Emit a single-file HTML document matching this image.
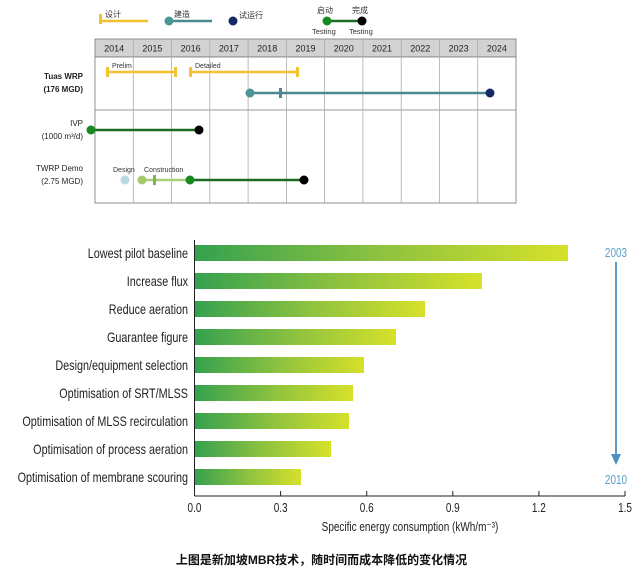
<!DOCTYPE html>
<html><head><meta charset="utf-8"><style>
html,body{margin:0;padding:0;background:#fff;}
svg{display:block;font-family:"Liberation Sans","Noto Sans CJK SC",sans-serif;}
</style></head><body>
<svg width="643" height="581" viewBox="0 0 643 581" xmlns="http://www.w3.org/2000/svg">
<defs>
<linearGradient id="g" x1="0" x2="1" y1="0" y2="0">
<stop offset="0" stop-color="#35a14f"/><stop offset="0.5" stop-color="#8ec23f"/><stop offset="1" stop-color="#d6e12a"/>
</linearGradient>
</defs>
<g font-size="8" fill="#333">
<rect x="99" y="14" width="3" height="10" fill="#f2c231"/>
<line x1="101" y1="21" x2="148" y2="21" stroke="#f2c231" stroke-width="2.5"/>
<text x="105" y="17">设计</text>
<line x1="169" y1="21" x2="212" y2="21" stroke="#4a8a8e" stroke-width="2.5"/>
<circle cx="169" cy="21" r="4.5" fill="#4b9598"/>
<text x="174" y="17">建造</text>
<circle cx="233" cy="21" r="4.5" fill="#142a66"/>
<text x="239" y="18">试运行</text>
<line x1="327" y1="21" x2="362" y2="21" stroke="#1c6a23" stroke-width="2.5"/>
<circle cx="327" cy="21" r="4.5" fill="#178a22"/>
<circle cx="362" cy="21" r="4.5" fill="#000"/>
<text x="317" y="13">启动</text><text x="352" y="13">完成</text>
<text x="312" y="34" font-size="7.5">Testing</text><text x="349" y="34" font-size="7.5">Testing</text>
</g>
<rect x="95" y="39" width="421" height="18" fill="#d2d2d2" stroke="#777" stroke-width="0.8"/>
<rect x="95" y="57" width="421" height="146" fill="#fff" stroke="#777" stroke-width="0.8"/>
<line x1="95" y1="110" x2="516" y2="110" stroke="#777" stroke-width="0.8"/>
<g stroke="#aaa" stroke-width="0.8">
<line x1="133.3" y1="39" x2="133.3" y2="203"/><line x1="171.5" y1="39" x2="171.5" y2="203"/><line x1="209.8" y1="39" x2="209.8" y2="203"/><line x1="248.1" y1="39" x2="248.1" y2="203"/><line x1="286.4" y1="39" x2="286.4" y2="203"/><line x1="324.6" y1="39" x2="324.6" y2="203"/><line x1="362.9" y1="39" x2="362.9" y2="203"/><line x1="401.2" y1="39" x2="401.2" y2="203"/><line x1="439.5" y1="39" x2="439.5" y2="203"/><line x1="477.7" y1="39" x2="477.7" y2="203"/>
</g>
<g font-size="9" fill="#222" text-anchor="middle">
<text x="114.1" y="51.5">2014</text><text x="152.4" y="51.5">2015</text><text x="190.6" y="51.5">2016</text><text x="228.9" y="51.5">2017</text><text x="267.2" y="51.5">2018</text><text x="305.5" y="51.5">2019</text><text x="343.8" y="51.5">2020</text><text x="382" y="51.5">2021</text><text x="420.3" y="51.5">2022</text><text x="458.6" y="51.5">2023</text><text x="496.9" y="51.5">2024</text>
</g>
<g font-size="8" fill="#222" text-anchor="end">
<text x="83" y="79" font-weight="bold">Tuas WRP</text><text x="83" y="92" font-weight="bold">(176 MGD)</text>
<text x="83" y="126">IVP</text><text x="83" y="139">(1000 m³/d)</text>
<text x="83" y="171">TWRP Demo</text><text x="83" y="184">(2.75 MGD)</text>
</g>
<g font-size="7" fill="#333">
<line x1="108" y1="72" x2="176" y2="72" stroke="#f2c231" stroke-width="2.5"/>
<rect x="106" y="67" width="3" height="10" fill="#f2c231"/><rect x="174" y="67" width="3" height="10" fill="#f2c231"/>
<text x="112" y="68">Prelim</text>
<line x1="191" y1="72" x2="298" y2="72" stroke="#f2c231" stroke-width="2.5"/>
<rect x="189" y="67" width="3" height="10" fill="#f2c231"/><rect x="296" y="67" width="3" height="10" fill="#f2c231"/>
<text x="195" y="68">Detailed</text>
<line x1="250" y1="93" x2="490" y2="93" stroke="#4a8a8e" stroke-width="2.5"/>
<circle cx="250" cy="93" r="4.5" fill="#4b9598"/>
<rect x="279" y="88" width="3" height="10" fill="#4a8a8e"/>
<circle cx="490" cy="93" r="4.5" fill="#142a66"/>
<line x1="91" y1="130" x2="199" y2="130" stroke="#1c6a23" stroke-width="2.5"/>
<circle cx="91" cy="130" r="4.5" fill="#178a22"/><circle cx="199" cy="130" r="4.5" fill="#000"/>
<text x="113" y="172">Design</text><text x="144" y="172">Construction</text>
<line x1="142" y1="180" x2="190" y2="180" stroke="#a9cf7a" stroke-width="2.5"/>
<line x1="190" y1="180" x2="304" y2="180" stroke="#1c6a23" stroke-width="2.5"/>
<circle cx="125" cy="180" r="4.5" fill="#b7dbe0"/>
<circle cx="142" cy="180" r="4.5" fill="#a5c96a"/>
<rect x="153" y="175" width="3" height="10" fill="#7fb24f"/>
<circle cx="190" cy="180" r="4.5" fill="#178a22"/><circle cx="304" cy="180" r="4.5" fill="#000"/>
</g>
<g fill="url(#g)">
<rect x="195" y="245" width="373" height="16"/>
<rect x="195" y="273" width="287" height="16"/>
<rect x="195" y="301" width="230" height="16"/>
<rect x="195" y="329" width="201" height="16"/>
<rect x="195" y="357" width="169" height="16"/>
<rect x="195" y="385" width="158" height="16"/>
<rect x="195" y="413" width="154" height="16"/>
<rect x="195" y="441" width="136" height="16"/>
<rect x="195" y="469" width="106" height="16"/>
</g>
<g transform="scale(0.8,1)">
<g font-size="13.5" fill="#222" text-anchor="end">
<text x="235" y="258">Lowest pilot baseline</text>
<text x="235" y="286">Increase flux</text>
<text x="235" y="314">Reduce aeration</text>
<text x="235" y="342">Guarantee figure</text>
<text x="235" y="370">Design/equipment selection</text>
<text x="235" y="398">Optimisation of SRT/MLSS</text>
<text x="235" y="426">Optimisation of MLSS recirculation</text>
<text x="235" y="454">Optimisation of process aeration</text>
<text x="235" y="482">Optimisation of membrane scouring</text>
</g>
<g font-size="12.5" fill="#222" text-anchor="middle">
<text x="243.1" y="512">0.0</text><text x="350.8" y="512">0.3</text><text x="458.4" y="512">0.6</text><text x="566" y="512">0.9</text><text x="673.6" y="512">1.2</text><text x="781.3" y="512">1.5</text>
<text x="512.5" y="531">Specific energy consumption (kWh/m⁻³)</text>
</g>
<g font-size="12.5" fill="#5a9fc8" text-anchor="middle">
<text x="770" y="257">2003</text><text x="770" y="484">2010</text>
</g>
</g>
<g stroke="#222" stroke-width="1">
<line x1="194.5" y1="240" x2="194.5" y2="496"/>
<line x1="194.5" y1="496" x2="625" y2="496"/>
<line x1="280.6" y1="491" x2="280.6" y2="496"/><line x1="366.7" y1="491" x2="366.7" y2="496"/><line x1="452.8" y1="491" x2="452.8" y2="496"/><line x1="538.9" y1="491" x2="538.9" y2="496"/><line x1="625" y1="491" x2="625" y2="496"/>
</g>
<line x1="616" y1="262" x2="616" y2="458" stroke="#4a90c4" stroke-width="1.8"/>
<polygon points="611,454 621,454 616,465" fill="#4a90c4"/>
<text x="321.5" y="564" font-size="12" font-weight="bold" fill="#111" text-anchor="middle">上图是新加坡MBR技术，随时间而成本降低的变化情况</text>
</svg>
</body></html>
